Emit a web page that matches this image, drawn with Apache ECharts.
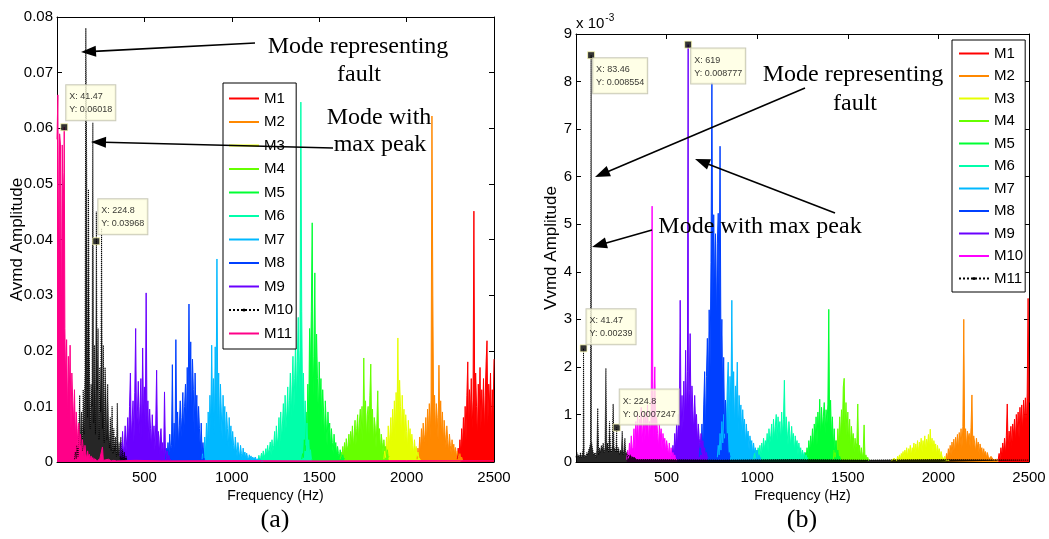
<!DOCTYPE html>
<html>
<head>
<meta charset="utf-8">
<title>VMD mode spectra</title>
<script src="https://cdn.jsdelivr.net/npm/echarts@6/dist/echarts.min.js"></script>
<style>
  html, body { margin: 0; padding: 0; background: #fff; }
  #chart { width: 1049px; height: 539px; }
</style>
</head>
<body>
<div id="chart"></div>
<script>
// Spectrum bin width (Hz). Amplitudes below are in units of 1e-3.
const DF = 5;

// ---------- (a) Avmd spectra ----------
const aM1Start = 2290;
const aM1 = [0.5,2.5,0.8,4,1.5,6,2.5,8,3.5,10, 4,12,18,5,13,8,15,6,11,45.1, 7,16,10,4,14,9,17,6,13,8, 15,5,12,18,21.8,7,14,10,16,6, 13,9,18.5];
const aM2Start = 2060;
const aM2 = [0.5,2.5,1,4.5,1.8,6,2.5,7,3.5,5, 8,3,9.5,5,10.5,4,11,62.2,30,7, 12,5,10.5,8,4,17.4,6,11,4.5,9, 3,7.5,5,2.5,6.5,4,1.8,5,3,1.5, 4,2,3.2,1.2,2.6,0.8,2,1.2,0.6,1.5, 0.4,0.9,0.3];
const aM3Start = 1870;
const aM3 = [0.5,2.2,0.8,4.5,1.5,6.5,2.5,5,8,3, 9.5,5,11,4,12.5,7,22.3,6,14.7,10, 4,12,7,9.5,3.5,8.5,5.5,2.5,7.5,4, 6,1.8,5,3,1.5,4,2,2.8,1,1.8, 0.8,0.5,0.3];
const aM4Start = 1620;
const aM4 = [0.5,1.8,0.7,2.8,1.2,3.5,1.5,4.2,2,3, 5,2.2,5.5,3.5,6.5,2.5,5,7.5,3,6, 8.5,4,7,9.5,5,10,3.5,18.7,6,11, 4,8.5,10,5,12,17.6,6,9.5,3,8, 6.5,2.5,7,12.8,3.5,6,2,5,3.5,1.5, 4,2,2.8,1,2.2,0.8,1];
const aM5Start = 1400;
const aM5 = [0.5,1.5,0.8,4,2,9,5,14,8,24, 16,27,43,12,19,34,11,23,15,8, 18,11,15,6,13,9,4,11,7,3, 9,5,7,2.5,6,3.5,1.5,5,2.5,3.5, 1,2.8,1.5,0.8,2.2,1,0.6,1.3,0.4,0.7, 0.3];
const aM6Start = 1150;
const aM6 = [0.3,1.2,0.4,0.8,1.6,0.5,2,0.8,1.4,2.4, 0.9,3,1.5,2.2,3.6,1.2,4,2,3,5.5, 1.8,6.5,3,4.5,8,2.5,9,4,7,10.5, 5,12,6,9,13.5,7,11,16,8,14, 19,9,15,22,11,18,26,13,20,64.7, 27,9,16,5,11,3,7,2,4,1, 2.2,0.6,0.5];
const aM7Start = 830;
const aM7 = [0.5,2.5,0.8,4.5,1.5,7,2.5,9,4,12, 6,21,8,15,5,20.7,11,36.5,8,16, 5,14,9,4,12,7,10,3,9,6, 2.5,8,4,6.5,2,5.5,3,1.5,4.5,2.5, 1,3.5,2,0.8,3,1.5,0.6,2.5,1,1.8, 0.5,1.6,0.8,0.4,1.3,0.6,1.1,0.3,0.9,0.5, 0.3,0.9,0.4,0.6,0.2,0.6,0.3,0.5,0.2,0.4, 0.2];
const aM8Start = 620;
const aM8 = [0.5,2.5,0.8,3.5,1,5,2,3,17.5,1.5, 7,2.5,22,4,9,3,6.5,11,4.5,8, 12.5,5,10,14,6,17,9,28.4,10,21.6, 7,18.5,13,5,16,9,12,4,10,6, 2,7,1.5,3.5,0.8,0.4];
const aM9Start = 360;
const aM9 = [1,3.5,0.8,5.5,1.5,3,6.5,2,4.5,8, 3,10,16,4,7.5,11,3.5,12.5,24,6, 9,14.5,5,10,15,4,20.5,8,13.5,6, 30.4,7,11,3.5,9.5,6,2.5,8.5,4,6.5, 2,7,16.5,3,5.5,1.5,4.5,6,2,3.5, 1,12.6,2.5,0.8,2,0.5,1.2,0.3,0.5];
const aM10Start = 100;
const aM10 = [0.5,1.8,0.6,3,1,5.5,12,3,9,2, 13,5,16,78,52,8,49,19,6,14, 10,61,7,21,5,45,13,24,4,17, 9,42,6,21,3.5,17,12,4,14,6, 2.5,8,2,10,1.5,6,2,4.5,1,10.6, 1.2,3.5,0.6,4.5,0.5,2.2,0.4,1.8,0.3,1, 0.3];
const aM11Start = 0;
const aM11 = [58,66,31,59,57,22,57,46,52,24, 14,22,8,19,12,21,6,16,11,7, 13,4,9,6,2.5,7,3,5,1.2,4, 2.5,0.8,3,1.5,0.5,2,0.8,1.4,0.3,1.1, 0.3,0.8,0.2,0.6,0.4,0.5,0.2,0.4,0.2,0.6, 0.3,0.4,2.7,0.3,0.5,0.2,0.4,0.3,0.2,0.5, 0.2,0.3,0.2,0.4,0.2,0.3,0.2,0.3,0.2,0.2];
const aM11Floor = [[450,0.3],[600,0.2],[1000,0.25],[1500,0.2],[2000,0.25],[2500,0.2]];
// data cursors: [frequency Hz, amplitude x1e-3]
const aTips = [[41.47, 60.18], [224.8, 39.68]];

// ---------- (b) Vvmd spectra ----------
const bM1Start = 2330;
const bM1 = [0.05,0.18,0.06,0.3,0.12,0.4,0.2,0.5,0.15,0.55, 1.22,0.25,0.65,0.4,0.75,0.3,0.8,0.55,0.9,0.4, 1.0,0.6,1.05,0.5,1.15,0.75,1.2,0.6,1.3,0.85, 1.35,0.7,1.45,3.44,1.25];
const bM2Start = 2040;
const bM2 = [0.05,0.18,0.06,0.28,0.12,0.35,0.15,0.42,0.2,0.48, 0.18,0.52,0.3,0.58,0.25,0.62,0.35,0.7,0.3,0.75, 3.0,0.45,0.7,0.3,0.65,0.5,0.6,0.3,0.72,1.41, 0.3,0.55,0.4,0.2,0.5,0.3,0.42,0.15,0.38,0.25, 0.3,0.1,0.28,0.15,0.22,0.08,0.2,0.12,0.15,0.06, 0.12,0.08,0.1,0.04,0.08,0.05,0.06,0.03,0.02];
const bM3Start = 1740;
const bM3 = [0.02,0.06,0.02,0.08,0.04,0.1,0.03,0.12,0.06,0.15, 0.05,0.18,0.1,0.22,0.08,0.25,0.14,0.3,0.1,0.28, 0.2,0.35,0.12,0.3,0.25,0.4,0.15,0.38,0.22,0.45, 0.18,0.42,0.3,0.5,0.2,0.45,0.32,0.55,0.22,0.48, 0.35,0.58,0.25,0.69,0.3,0.5,0.2,0.45,0.3,0.38, 0.15,0.35,0.2,0.28,0.1,0.22,0.12,0.15,0.06,0.12, 0.04,0.07,0.03,0.04,0.02];
const bM4Start = 1420;
const bM4 = [0.05,0.25,0.1,0.45,0.2,0.7,0.35,0.95,0.5,1.1, 0.6,1.58,1.76,0.7,1.25,0.55,1.05,0.4,0.9,0.3, 0.75,0.45,0.6,0.2,0.5,0.3,0.4,1.22,0.15,0.35, 0.1,0.3,0.08,0.22,0.78,0.06,0.15,0.05,0.1,0.03, 0.05];
const bM5Start = 1260;
const bM5 = [0.05,0.2,0.08,0.3,0.12,0.45,0.2,0.55,0.3,0.7, 0.25,0.8,0.45,0.95,0.35,1.05,0.6,1.32,0.5,1.15, 0.7,0.95,1.25,0.6,1.1,0.8,1.2,3.21,0.7,1.3, 0.5,0.95,0.3,0.7,0.2,0.45,0.12,0.25,0.06,0.12, 0.05];
const bM6Start = 980;
const bM6 = [0.05,0.18,0.08,0.25,0.1,0.3,0.15,0.35,0.12,0.4, 0.2,0.5,0.25,0.45,0.3,0.6,0.2,0.7,0.4,0.55, 0.8,0.35,0.9,0.5,0.75,1.0,0.45,0.95,0.6,0.85, 0.4,1.05,0.55,0.9,1.72,0.5,0.95,0.65,0.35,0.85, 0.6,0.3,0.75,0.45,0.6,0.2,0.55,0.35,0.45,0.15, 0.4,0.2,0.3,0.1,0.25,0.12,0.2,0.06,0.15,0.05, 0.1];
const bM7Start = 780;
const bM7 = [0.1,0.35,0.15,0.6,0.25,0.85,0.4,1.0,0.5,1.3, 0.7,1.6,2.1,0.8,1.8,1.2,3.4,1.0,1.9,0.7, 1.6,1.1,2.1,0.6,1.4,0.9,1.2,0.5,1.1,0.7, 0.9,0.35,0.8,0.5,0.65,0.25,0.55,0.35,0.45,0.15, 0.4,0.2,0.3,0.1,0.25,0.08,0.15,0.05,0.1];
const bM8Start = 680;
const bM8 = [0.1,0.4,0.15,0.8,0.3,1.2,1.9,0.6,1.8,2.6, 1.2,3.2,2.0,4.2,7.98,3.3,5.2,3.6,4.8,2.9, 4.6,5.23,3.4,6.64,2.2,3.0,1.2,2.2,0.6,1.3, 0.3,0.6,0.15,0.2,0.1];
const bM9Start = 530;
const bM9 = [0.1,0.35,0.15,0.6,0.25,0.8,0.3,1.0,0.5,3.4, 0.6,1.4,0.7,1.7,0.8,2.35,0.9,1.9,1.1,1.5, 2.7,0.8,1.6,1.1,0.6,1.4,0.8,1.0,0.4,0.8, 0.5,0.3,0.6,0.2,0.45,0.15,0.3,0.1,0.2,0.08, 0.1];
const bM10Start = 280;
const bM10 = [0.05,0.25,0.08,0.4,0.15,0.55,0.25,0.3,0.7,0.2, 0.85,0.45,1.0,0.35,0.9,0.6,1.15,0.4,0.8,1.05, 0.45,0.95,0.7,1.2,0.4,0.85,0.55,1.0,5.38,0.5, 1.3,2.0,0.45,0.95,0.6,0.3,0.8,0.5,0.7,0.25, 0.6,0.35,0.5,0.2,0.45,0.3,0.15,0.4,0.1,0.3, 0.08,0.2,0.05,0.15,0.05,0.08,0.05];
const bM11Start = 0;
const bM11 = [0.1,0.2,0.1,0.15,0.1,0.2,0.1,0.15,0.3,0.1, 0.15,0.1,0.2,0.15,0.25,0.3,0.4,0.45,0.3,0.2, 0.15,0.2,0.1,0.25,1.13,0.15,0.3,0.2,0.35,0.25, 0.4,0.2,0.3,1.97,0.25,0.4,0.2,0.85,0.3,0.2, 0.35,1.22,0.25,0.3,0.2,0.4,0.2,0.3,0.15,0.25, 0.2,0.65,0.15,0.25,0.5,0.15,0.2,0.1,0.15,0.1, 0.15,0.1,0.12,0.08,0.1,0.06,0.08,0.05,0.06,0.04, 0.05];
const bM11Floor = [[400,0.05],[800,0.04],[1200,0.05],[1600,0.04],[2000,0.05],[2500,0.04]];
const bTips = [[83.46, 8.554], [619, 8.777], [41.47, 2.39], [224.8, 0.7247]];

// Axis ticks
const freqTicks = { min: 0, max: 2500, step: 500 };
const aAmpTicks = { min: 0, max: 80, step: 10 };
const bAmpTicks = { min: 0, max: 9, step: 1 };

// ---------------------------------------------------------------
const SANS = "'Liberation Sans', Arial, Helvetica, sans-serif";
const SERIF = "'Liberation Serif', 'Times New Roman', serif";

function spectrum(start, amps, extra) {
  const pts = amps.map((a, i) => [start + i * DF, a]);
  return pts.concat(extra || []).sort((p, q) => p[0] - q[0]);
}

const HUE = ['#ff0000', '#ff8800', '#e6ff00', '#66ff00', '#00ff33', '#00ffaa',
             '#00b8ff', '#0040ff', '#6a00ff'];

const aSpectra = [
  spectrum(aM1Start, aM1), spectrum(aM2Start, aM2), spectrum(aM3Start, aM3),
  spectrum(aM4Start, aM4), spectrum(aM5Start, aM5), spectrum(aM6Start, aM6),
  spectrum(aM7Start, aM7), spectrum(aM8Start, aM8), spectrum(aM9Start, aM9),
  spectrum(aM10Start, aM10, [aTips[1]]),
  spectrum(aM11Start, aM11, [aTips[0]].concat(aM11Floor))
];
const bSpectra = [
  spectrum(bM1Start, bM1), spectrum(bM2Start, bM2), spectrum(bM3Start, bM3),
  spectrum(bM4Start, bM4), spectrum(bM5Start, bM5), spectrum(bM6Start, bM6),
  spectrum(bM7Start, bM7), spectrum(bM8Start, bM8),
  spectrum(bM9Start, bM9, [bTips[1]]),
  spectrum(bM10Start, bM10),
  spectrum(bM11Start, bM11, [bTips[0], bTips[2], bTips[3]].concat(bM11Floor))
];

const aColors = HUE.concat(['#000000', '#ff0088']);
const bColors = HUE.concat(['#ff00ff', '#000000']);
const aDotted = 9, bDotted = 10;   // index of the dotted black mode in each panel
const B_SUFFIX = ' (b)';

function lineSeries(name, data, color, dotted, axis) {
  return {
    type: 'line', name, data,
    xAxisIndex: axis, yAxisIndex: axis,
    showSymbol: false,
    symbol: dotted ? 'circle' : 'none',
    symbolSize: 3,
    lineStyle: { width: 1, color, type: dotted ? 'dotted' : 'solid' },
    areaStyle: { color, opacity: dotted ? 0.85 : 1 },
    itemStyle: { color },
    animation: false, silent: true,
    emphasis: { disabled: true }
  };
}

const series = [];
aSpectra.forEach((d, i) => series.push(lineSeries('M' + (i + 1), d, aColors[i], i === aDotted, 0)));
bSpectra.forEach((d, i) => series.push(lineSeries('M' + (i + 1) + B_SUFFIX, d, bColors[i], i === bDotted, 2)));

function fmtAmp(v) { return String(parseFloat((v * 1e-3).toPrecision(4))); }
const tipLabel = {
  show: true,
  formatter: p => 'X: ' + p.value[0] + '\nY: ' + fmtAmp(p.value[1]),
  fontFamily: SANS, fontSize: 9, lineHeight: 13, color: '#000',
  backgroundColor: '#ffffe1', borderColor: '#bdbda8', borderWidth: 1,
  padding: [5, 3, 4, 3]
};
const tipMarker = { color: '#000', borderColor: '#ffffb8', borderWidth: 1 };
const aTipPos = [[6, -38], [6, -38]];
const bTipPos = [[6, 7], [7, 8], [7, -35], [7, -34]];
function tipSeries(tips, pos, axis) {
  return {
    type: 'scatter', xAxisIndex: axis, yAxisIndex: axis,
    symbol: 'rect', symbolSize: 7, z: 10, silent: true, animation: false,
    itemStyle: tipMarker,
    data: tips.map((t, i) => ({ value: t, label: Object.assign({}, tipLabel, { position: pos[i] }) }))
  };
}
series.push(tipSeries(aTips, aTipPos, 0));
series.push(tipSeries(bTips, bTipPos, 2));

// ---------- axes ----------
const black = { color: '#000', width: 1 };
const tickFont = { fontFamily: SANS, fontSize: 15, color: '#000' };
function xAxes(grid) {
  const base = {
    type: 'value', gridIndex: grid, min: freqTicks.min, max: freqTicks.max, interval: freqTicks.step,
    splitLine: { show: false },
    axisLine: { lineStyle: black, onZero: false },
    axisTick: { inside: true, length: 5, lineStyle: black }
  };
  return [
    Object.assign({}, base, {
      position: 'bottom',
      name: 'Frequency (Hz)', nameLocation: 'middle', nameGap: 27, nameMoveOverlap: false,
      nameTextStyle: { fontFamily: SANS, fontSize: 14, color: '#000' },
      axisLabel: Object.assign({ margin: 8, formatter: v => (v === 0 ? '' : String(v)) }, tickFont)
    }),
    Object.assign({}, base, { position: 'top', axisLabel: { show: false } })
  ];
}
function yAxes(grid, ticks, name, gap, fmt) {
  const base = {
    type: 'value', gridIndex: grid, min: ticks.min, max: ticks.max, interval: ticks.step,
    splitLine: { show: false },
    axisLine: { lineStyle: black, onZero: false },
    axisTick: { inside: true, length: 5, lineStyle: black }
  };
  return [
    Object.assign({}, base, {
      position: 'left',
      name, nameLocation: 'middle', nameGap: gap, nameMoveOverlap: false,
      nameTextStyle: { fontFamily: SANS, fontSize: 17, color: '#000' },
      axisLabel: Object.assign({ margin: 4, formatter: fmt }, tickFont)
    }),
    Object.assign({}, base, { position: 'right', axisLabel: { show: false } })
  ];
}

// ---------- annotations ----------
function arrow(x1, y1, x2, y2) {
  const dx = x2 - x1, dy = y2 - y1, L = Math.hypot(dx, dy), ux = dx / L, uy = dy / L;
  const hl = 15, hw = 5.5;
  const bx = x2 - ux * hl, by = y2 - uy * hl;
  return [
    { type: 'line', z: 100, shape: { x1, y1, x2: bx + ux * 2, y2: by + uy * 2 },
      style: { stroke: '#000', lineWidth: 1.6 } },
    { type: 'polygon', z: 100,
      shape: { points: [[x2, y2], [bx - uy * hw, by + ux * hw], [bx + uy * hw, by - ux * hw]] },
      style: { fill: '#000' } }
  ];
}
function label(text, x, y, font) {
  return { type: 'text', z: 100, x, y,
    style: { text, font, fill: '#000', textAlign: 'center', textVerticalAlign: 'middle' } };
}
const NOTE = "24px " + SERIF;
const graphic = [].concat(
  label('Mode representing', 358, 47, NOTE),
  label('fault', 359, 75, NOTE),
  label('Mode with', 379, 118, NOTE),
  label('max peak', 380, 145, NOTE),
  arrow(255, 43, 81, 52),
  arrow(333, 148, 91, 142),
  label('Mode representing', 853, 75, NOTE),
  label('fault', 855, 104, NOTE),
  label('Mode with max peak', 760, 227, NOTE),
  arrow(805, 88, 595, 177),
  arrow(652, 230, 592, 247),
  arrow(835, 213, 695, 159),
  label('(a)', 275, 520, "26px " + SERIF),
  label('(b)', 802, 520, "26px " + SERIF),
  [{ type: 'text', z: 100, x: 576, y: 24,
     style: { text: '{a|x 10}{b|-3}', textVerticalAlign: 'middle',
              rich: { a: { fontFamily: SANS, fontSize: 15, color: '#000' },
                      b: { fontFamily: SANS, fontSize: 10, color: '#000', padding: [0, 0, 11, 1] } } } }]
);

const legendBase = {
  orient: 'vertical', itemWidth: 30, itemHeight: 4,
  backgroundColor: '#fff', borderColor: '#000', borderWidth: 1, borderRadius: 0,
  textStyle: { fontFamily: SANS, fontSize: 15, color: '#000', lineHeight: 15 },
  itemStyle: { opacity: 0 },
  selectedMode: false, inactiveColor: '#000'
};
function legendData(names, dottedIdx) {
  return names.map((n, i) => (i === dottedIdx ? { name: n, itemStyle: { opacity: 1 } } : n));
}

const option = {
  animation: false,
  backgroundColor: '#fff',
  grid: [
    { left: 57, top: 17, width: 437, height: 445 },
    { left: 576, top: 34, width: 453, height: 428 }
  ],
  xAxis: xAxes(0).concat(xAxes(1)),
  yAxis: yAxes(0, aAmpTicks, 'Avmd Amplitude', 31, v => (v === 0 ? '0' : (v / 1000).toFixed(2)))
    .concat(yAxes(1, bAmpTicks, 'Vvmd Amplitude', 16, v => String(v))),
  legend: [
    Object.assign({}, legendBase, {
      left: 223, top: 83, itemGap: 8.5, padding: [8, 3, 8, 5],
      data: legendData(aSpectra.map((d, i) => 'M' + (i + 1)), aDotted)
    }),
    Object.assign({}, legendBase, {
      left: 952, top: 40, itemGap: 7.5, padding: [6, 2, 6, 6],
      data: legendData(bSpectra.map((d, i) => 'M' + (i + 1) + B_SUFFIX), bDotted),
      formatter: n => n.replace(B_SUFFIX, '')
    })
  ],
  series,
  graphic
};

const chart = echarts.init(document.getElementById('chart'), null, { renderer: 'canvas' });
chart.setOption(option);
</script>
</body>
</html>
